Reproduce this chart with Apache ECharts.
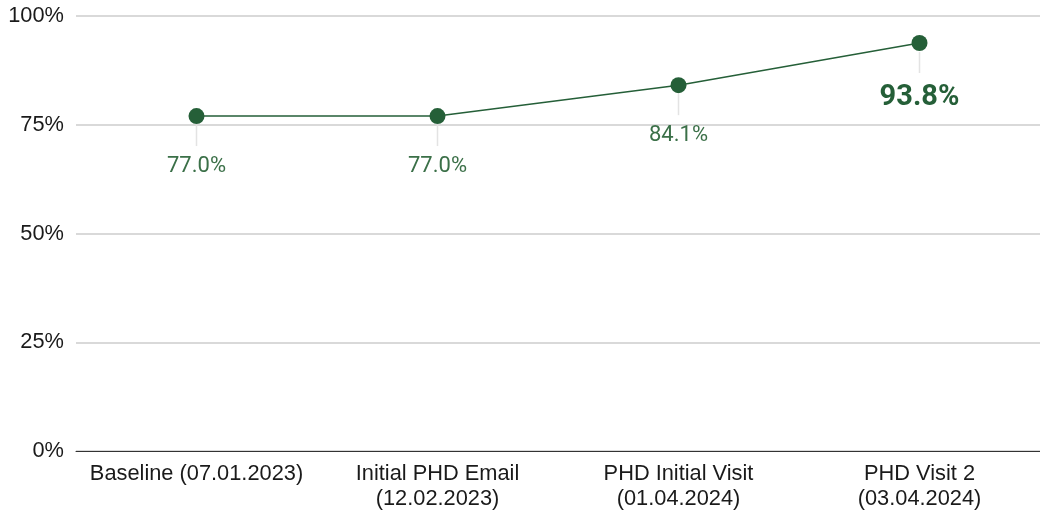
<!DOCTYPE html>
<html>
<head>
<meta charset="utf-8">
<script src="https://cdn.jsdelivr.net/npm/echarts@6/dist/echarts.min.js"></script>
<style>
    html, body { margin: 0; padding: 0; background: #fff; }
    #chart { width: 1040px; height: 513px; }
</style>
</head>
<body>
<div id="chart"></div>
<script>
// Data
const categories = [
    'Baseline (07.01.2023)',
    'Initial PHD Email\n(12.02.2023)',
    'PHD Initial Visit\n(01.04.2024)',
    'PHD Visit 2\n(03.04.2024)'
];
const values = [77.0, 77.0, 84.1, 93.8];
const yTicks = [0, 25, 50, 75, 100];

const green = '#255f38';
const labelGreen = '#3b7048';

const chart = echarts.init(document.getElementById('chart'));

const options = {
    backgroundColor: '#fff',
    animation: false,
    grid: {
        top: 16,
        bottom: 62,
        left: 76,
        right: 0
    },
    xAxis: {
        type: 'category',
        data: categories,
        boundaryGap: true,
        axisLine: { lineStyle: { color: '#333', width: 1 } },
        axisTick: { show: false },
        axisLabel: {
            color: '#1a1a1a',
            fontFamily: 'Liberation Sans, Arial',
            fontSize: 21.8,
            lineHeight: 25,
            margin: 10,
            interval: 0
        }
    },
    yAxis: {
        type: 'value',
        min: yTicks[0],
        max: yTicks[yTicks.length - 1],
        interval: 25,
        axisLine: { show: false },
        axisTick: { show: false },
        splitLine: { lineStyle: { color: '#cccccc', width: 1.5 } },
        axisLabel: {
            color: '#1a1a1a',
            fontFamily: 'Liberation Sans, Arial',
            fontSize: 21.8,
            margin: 12,
            formatter: (v) => v + '%'
        }
    },
    series: [
        {
            // leader lines from point down to label
            type: 'custom',
            silent: true,
            z: 1,
            data: values.map((v, i) => [i, v]),
            renderItem: (params, api) => {
                const p = api.coord([api.value(0), api.value(1)]);
                return {
                    type: 'line',
                    shape: { x1: p[0], y1: p[1] + 9, x2: p[0], y2: p[1] + 30 },
                    style: { stroke: '#e3e3e3', lineWidth: 1.5 }
                };
            }
        },
        {
            type: 'line',
            data: values.map((v, i) => ({
                value: v,
                label: i === values.length - 1
                    ? { fontSize: 29, fontWeight: 'bold', color: green, distance: 32 }
                    : {}
            })),
            z: 3,
            symbol: 'circle',
            symbolSize: 16,
            itemStyle: { color: green },
            lineStyle: { color: green, width: 1.5 },
            label: {
                show: true,
                position: 'bottom',
                distance: 31,
                fontFamily: 'Roboto',
                fontSize: 22,
                color: labelGreen,
                formatter: (p) => p.value.toFixed(1) + '%'
            }
        }
    ]
};

chart.setOption(options);
</script>
</body>
</html>
